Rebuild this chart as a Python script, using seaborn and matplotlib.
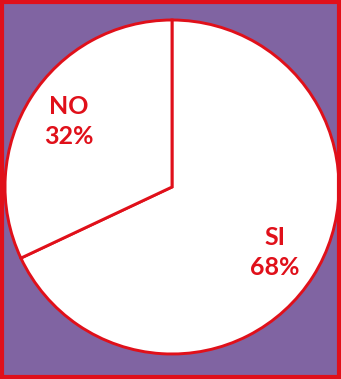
import matplotlib
matplotlib.use("Agg")
import matplotlib.pyplot as plt
from matplotlib.patches import Rectangle
import seaborn as sns

categories = ["SI", "NO"]
values = [68, 32]

sns.set_style("white")
plt.rcParams["font.family"] = ["Lato", "DejaVu Sans"]

RED = "#E0101A"
PURPLE = "#8064A2"

fig = plt.figure(figsize=(3.41, 3.79), dpi=100)
fig.patch.set_facecolor(PURPLE)
ax = fig.add_axes([0, 0, 1, 1])
ax.set_facecolor(PURPLE)

labels = [f"{c}\n{v}%" for c, v in zip(categories, values)]
wedges, texts = ax.pie(
    values,
    labels=labels,
    colors=["white", "white"],
    startangle=90,
    counterclock=False,
    center=(172, 192),
    radius=167,
    labeldistance=0.73,
    frame=True,
    wedgeprops=dict(edgecolor=RED, linewidth=2.1),
    textprops=dict(color=RED, fontsize=18, fontweight="bold",
                   ha="center", va="center", linespacing=1.4),
)
ax.set_xlim(0, 341)
ax.set_ylim(0, 379)
ax.set_aspect("equal")
ax.axis("off")

fig.patches.append(Rectangle((0.005, 0.005), 0.99, 0.99, transform=fig.transFigure,
                             fill=False, edgecolor=RED, linewidth=3))

fig.savefig("out.png", dpi=100, facecolor=PURPLE)
